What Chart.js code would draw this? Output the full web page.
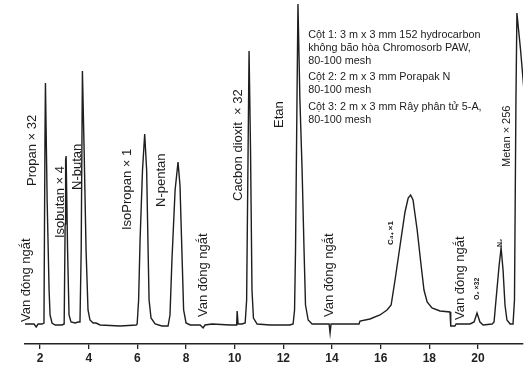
<!DOCTYPE html>
<html><head><meta charset="utf-8">
<script src="https://cdn.jsdelivr.net/npm/chart.js@4.4.1/dist/chart.umd.min.js"></script>
<style>html,body{margin:0;padding:0;background:#fff}#wrap{width:532px;height:385px;position:relative}</style>
</head><body><div id="wrap"><canvas id="c"></canvas></div>
<script>
// retention time (min)
const retentionTime = [1.38,1.75,1.84,1.92,2.08,2.16,2.20,2.22,2.29,2.37,2.41,2.49,2.62,2.90,2.99,3.03,3.05,3.07,3.13,3.19,3.27,3.44,3.56,3.64,3.69,3.74,3.81,3.89,3.97,4.05,4.18,4.30,4.47,5.29,5.95,5.99,6.05,6.11,6.21,6.30,6.38,6.44,6.48,6.56,6.73,7.01,7.26,7.34,7.42,7.55,7.67,7.75,7.84,7.90,8.00,8.17,8.58,8.70,8.78,9.07,9.81,10.08,10.10,10.14,10.30,10.43,10.49,10.55,10.59,10.65,10.71,10.77,10.92,11.45,12.27,12.40,12.46,12.50,12.56,12.60,12.68,12.77,12.85,12.91,13.02,13.18,13.71,13.88,13.92,13.96,14.54,15.11,15.15,15.56,15.97,16.26,16.43,16.59,16.80,17.00,17.13,17.23,17.33,17.50,17.66,17.78,17.91,18.11,18.44,18.85,18.87,18.89,19.05,19.10,19.67,19.84,19.96,20.08,20.21,20.58,20.66,20.74,20.87,20.95,21.03,21.11,21.19,21.32,21.44,21.50,21.56,21.60,21.75,21.90];
// detector signal (arbitrary units)
const detectorSignal = [20,20,17,20,20,21,200,261,144,54,29,21,19,19,20,120,184,188,94,29,22,21,22,22,94,273,194,94,34,24,21,21,19,18,19,20,44,104,174,210,174,94,44,26,20,18,18,29,84,154,182,159,84,34,21,19,19,16,19,20,19,19,33,20,20,21,44,194,293,194,54,26,20,19,19,20,34,94,244,340,244,174,94,39,24,20,20,20,11,20,20,20,23,25,29,34,39,64,99,132,146,149,144,114,79,54,42,36,33,32,21,18,18,20,20,22,31,22,19,20,22,44,79,96,74,39,24,20,20,44,244,331,294,251];
const tickValues = [2,4,6,8,10,12,14,16,18,20];
const peakLabelTexts = ["Van đóng ngắt","Propan × 32","Isobutan × 4","N-butan","IsoPropan × 1","N-pentan","Van đóng ngắt","Cacbon dioxit  × 32","Etan","Van đóng ngắt","C₄₊ ×1","Van đóng ngắt","O₂ ×32","N₂","Metan × 256"];
const peakLabelTimes = [1.59,1.84,2.97,3.69,5.74,7.14,8.86,10.30,11.99,14.04,16.51,19.43,20.04,20.99,21.32];
const peakLabelSignals = [22,158,106,154,114,137,27,143,216,27,99,24,44,97,177];
const columnNotes = ["Cột 1: 3 m x 3 mm 152 hydrocarbon","không bão hòa Chromosorb PAW,","80-100 mesh","Cột 2: 2 m x 3 mm Porapak N","80-100 mesh","Cột 3: 2 m x 3 mm Rây phân tử 5-A,","80-100 mesh"];
const columnNoteSignals = [309,296,283,267,254,237,224];
const columnNoteTime = 13.02;

const labelSizes = [13,13,13,13,13,13,13,13,13,13,8,13,7,7,11];
const labelWeights = ['','','','','','','','','','','bold ','','bold ','bold ',''];

const annot = {
  id:'annot',
  afterDatasetsDraw(chart){
    const ctx = chart.ctx, xs = chart.scales.x, ys = chart.scales.y;
    ctx.save();
    ctx.fillStyle = '#1c1c1c';
    ctx.textAlign = 'left';
    ctx.textBaseline = 'alphabetic';
    peakLabelTexts.forEach((t,i)=>{
      const px = xs.getPixelForValue(peakLabelTimes[i]);
      const py = ys.getPixelForValue(peakLabelSignals[i]);
      ctx.save();
      ctx.translate(px,py);
      ctx.rotate(-Math.PI/2);
      ctx.font = labelWeights[i] + labelSizes[i] + 'px "Liberation Sans", Arial, sans-serif';
      ctx.fillText(t,0,0);
      ctx.restore();
    });
    ctx.font = '10.8px "Liberation Sans", Arial, sans-serif';
    ctx.textBaseline = 'middle';
    const nx = xs.getPixelForValue(columnNoteTime);
    columnNotes.forEach((t,i)=>{
      ctx.fillText(t, nx, ys.getPixelForValue(columnNoteSignals[i]));
    });
    ctx.restore();
  }
};

new Chart(document.getElementById('c'), {
  type:'line',
  data:{datasets:[{
    data: retentionTime.map((t,i)=>({x:t,y:detectorSignal[i]})),
    borderColor:'#1e1e1e', borderWidth:1.4, pointRadius:0, tension:0, fill:false
  }]},
  options:{
    responsive:true, maintainAspectRatio:false, animation:false,
    layout:{padding:{left:25,right:9,top:2,bottom:0}},
    plugins:{legend:{display:false},tooltip:{enabled:false}},
    scales:{
      x:{
        type:'linear', min:1.38, max:21.85,
        afterBuildTicks: ax => { ax.ticks = tickValues.map(v=>({value:v})); },
        afterFit: ax => { ax.height = 41; },
        grid:{drawOnChartArea:false, drawTicks:true, tickLength:5, color:'#222', lineWidth:1.3},
        border:{color:'#222', width:1.6},
        ticks:{color:'#222', padding:2, font:{family:'"Liberation Sans", Arial, sans-serif', size:12, weight:'bold'}}
      },
      y:{display:false, min:0, max:342}
    }
  },
  plugins:[annot]
});
</script>
</body></html>
